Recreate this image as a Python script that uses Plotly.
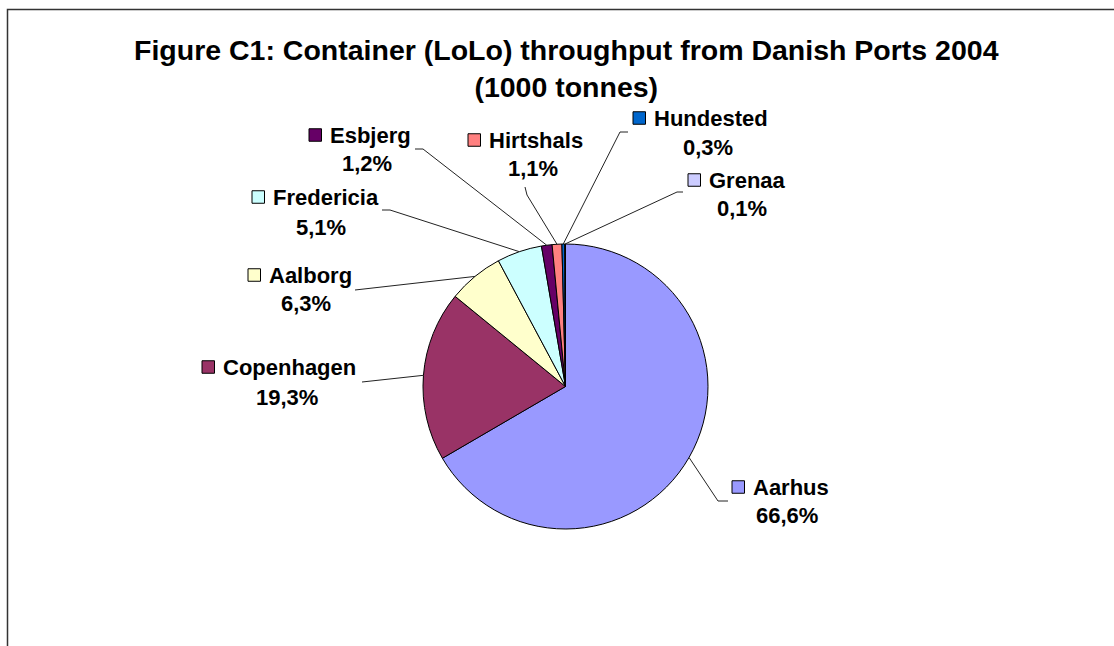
import math
import plotly.graph_objects as go

# ---- data ----
ports = ["Aarhus", "Copenhagen", "Aalborg", "Fredericia", "Esbjerg", "Hirtshals", "Hundested", "Grenaa"]
shares = [66.6, 19.3, 6.3, 5.1, 1.2, 1.1, 0.3, 0.1]
pct_labels = ["66,6%", "19,3%", "6,3%", "5,1%", "1,2%", "1,1%", "0,3%", "0,1%"]
colors = ["#9999FF", "#993366", "#FFFFCC", "#CCFFFF", "#660066", "#FF8080", "#0066CC", "#CCCCFF"]

W, H = 1114, 646
CX, CY, R = 565.5, 386.5, 142.5

# label layout (pixel positions): key x, name y, pct x, pct y, leader points near label
label_pos = {
    "Aarhus":     dict(kx=732, ny=487, px=787, py=515, lead=[(728, 501), (718, 501)]),
    "Copenhagen": dict(kx=202, ny=367, px=287, py=397, lead=[(362, 382)]),
    "Aalborg":    dict(kx=248, ny=275, px=306, py=303, lead=[(355, 290)]),
    "Fredericia": dict(kx=252, ny=197, px=321, py=227, lead=[(382, 210), (390, 210)]),
    "Esbjerg":    dict(kx=309, ny=135, px=367, py=163, lead=[(415, 149), (423, 149)]),
    "Hirtshals":  dict(kx=468, ny=140, px=533, py=168, lead=[(525, 187), (527, 195)]),
    "Hundested":  dict(kx=633, ny=118, px=708, py=147, lead=[(628, 132), (620, 132)]),
    "Grenaa":     dict(kx=688, ny=180, px=742, py=208, lead=[(683, 192), (677, 192)]),
}

fig = go.Figure()
fig.add_trace(go.Pie(
    labels=ports, values=shares, sort=False, direction="clockwise", rotation=0,
    marker=dict(colors=colors, line=dict(color="black", width=1)),
    textinfo="none", hoverinfo="label+percent", showlegend=False,
    domain=dict(x=[(CX - R) / W, (CX + R) / W], y=[1 - (CY + R) / H, 1 - (CY - R) / H]),
))

shapes = []
annotations = []
FONT = "Liberation Sans, Arial, sans-serif"
total = sum(shares)
cum = 0.0
for name, val, pct, col in zip(ports, shares, pct_labels, colors):
    mid = (cum + val / 2) / total * 2 * math.pi
    cum += val
    ex = CX + R * math.sin(mid)
    ey = CY - R * math.cos(mid)
    lp = label_pos[name]
    pts = lp["lead"] + [(ex, ey)]
    path = "M " + " L ".join(f"{x},{y}" for x, y in pts)
    shapes.append(dict(type="path", path=path, xref="x", yref="y",
                       line=dict(color="#222222", width=1)))
    k = 12.5
    shapes.append(dict(type="rect", xref="x", yref="y",
                       x0=lp["kx"], x1=lp["kx"] + k, y0=lp["ny"] - k / 2, y1=lp["ny"] + k / 2,
                       fillcolor=col, line=dict(color="black", width=1)))
    annotations.append(dict(x=lp["kx"] + k + 6, y=lp["ny"], xref="x", yref="y",
                            text=f"<b>{name}</b>", showarrow=False, xanchor="left", yanchor="middle",
                            font=dict(family=FONT, size=22, color="black")))
    annotations.append(dict(x=lp["px"], y=lp["py"], xref="x", yref="y",
                            text=f"<b>{pct}</b>", showarrow=False, xanchor="center", yanchor="middle",
                            font=dict(family=FONT, size=22, color="black")))

# title
annotations.append(dict(x=566, y=68, xref="x", yref="y",
                        text="<b>Figure C1: Container (LoLo) throughput from Danish Ports 2004</b><br><b>(1000 tonnes)</b>",
                        showarrow=False, xanchor="center", yanchor="middle", align="center",
                        font=dict(family=FONT, size=28.5, color="black")))

# chart frame (left and top edges visible)
shapes.append(dict(type="path", path=f"M 7.5,{H} L 7.5,9.5 L {W},9.5", xref="x", yref="y",
                   line=dict(color="#333333", width=1.5)))

fig.update_layout(
    width=W, height=H, margin=dict(l=0, r=0, t=0, b=0),
    paper_bgcolor="white", plot_bgcolor="white",
    xaxis=dict(range=[0, W], visible=False, domain=[0, 1], fixedrange=True),
    yaxis=dict(range=[H, 0], visible=False, domain=[0, 1], fixedrange=True),
    shapes=shapes, annotations=annotations,
)
fig.write_html("out.html", config={"displayModeBar": False},
               post_script="document.body.style.margin='0';document.body.style.overflow='hidden';")
